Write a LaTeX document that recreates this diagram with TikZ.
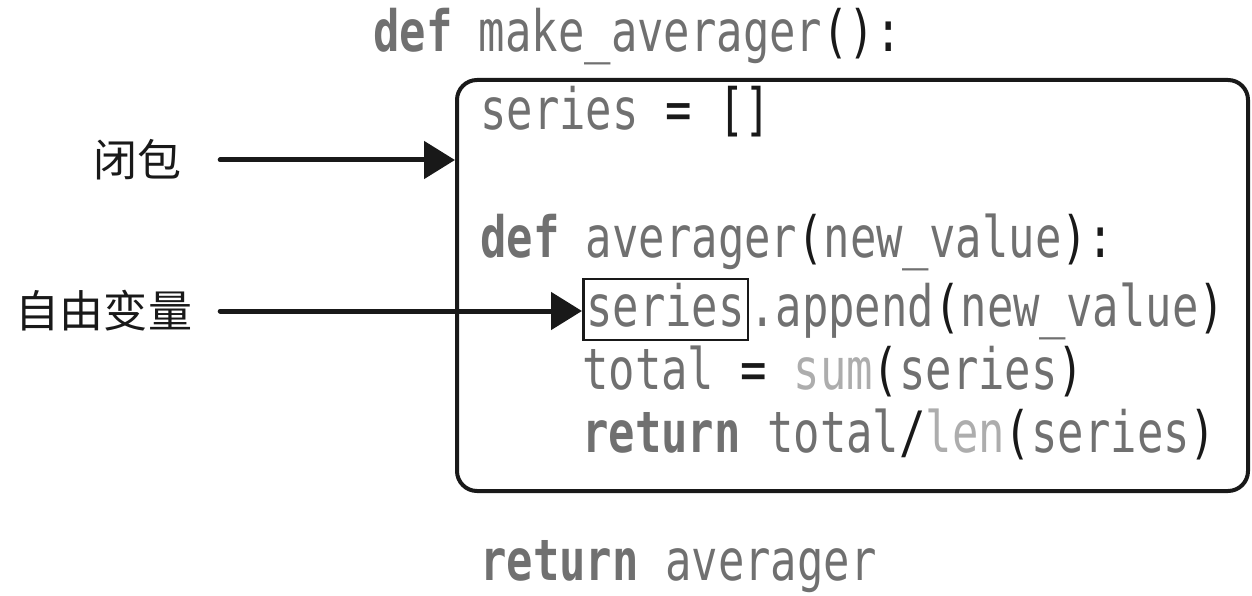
\documentclass[tikz,border=0pt]{standalone}
\usepackage{fontspec}
\usetikzlibrary{arrows.meta}
\newfontfamily\codefont{DejaVu Sans Mono}[FakeStretch=0.77]
\newfontfamily\cjk{Noto Sans CJK SC}
\definecolor{cgray}{gray}{0.44}
\definecolor{clight}{gray}{0.68}
\definecolor{cink}{gray}{0.1}
\newcommand\cKw[1]{\textcolor{cgray}{\bfseries #1}}
\newcommand\cGr[1]{\textcolor{cgray}{#1}}
\newcommand\cBi[1]{\textcolor{clight}{#1}}
\tikzset{
  code/.style={inner sep=0pt, anchor=base west, text=cink, font=\codefont\fontsize{57}{64}\selectfont},
  lab/.style={inner sep=0pt, text=cink, font=\cjk\fontsize{44}{50}\selectfont},
  frame/.style={draw=cink, line width=4pt, rounded corners=20pt},
  arr/.style={draw=cink, line width=5pt, line cap=round, -{Triangle[length=31pt,width=37pt]}},
}
\begin{document}
\begin{tikzpicture}[x=1pt,y=-1pt]
\useasboundingbox (0,0) rectangle (1252,596);
\node[frame, minimum width=791pt, minimum height=411pt] (box) at (852.5,285.5) {};
\node[code] (l0) at (373,52) {\cKw{def} \cGr{make\_averager}():};
\node[code] (l1) at (480,130) {\cGr{series} = []};
\node[code] (l2) at (480,257) {\cKw{def} \cGr{averager}(\cGr{new\_value}):};
\node[code, draw=cink, line width=2.5pt, inner xsep=3pt, text height=47pt, text depth=14pt] (sv) at (582,326) {\cGr{series}};
\node[code] (l3) at (sv.base east) {\cGr{.append}(\cGr{new\_value})};
\node[code] (l4) at (582,389) {\cGr{total} = \cBi{sum}(\cGr{series})};
\node[code] (l5) at (582,452) {\cKw{return} \cGr{total}/\cBi{len}(\cGr{series})};
\node[code] (l6) at (480,580) {\cKw{return} \cGr{averager}};
\node[lab] (c1) at (137,160) {闭包};
\node[lab] (c2) at (104,311) {自由变量};
\draw[arr] ([xshift=39pt]c1.east) -- (c1.east -| box.west);
\draw[arr] ([xshift=28pt]c2.east) -- (c2.east -| sv.west);
\end{tikzpicture}
\end{document}
